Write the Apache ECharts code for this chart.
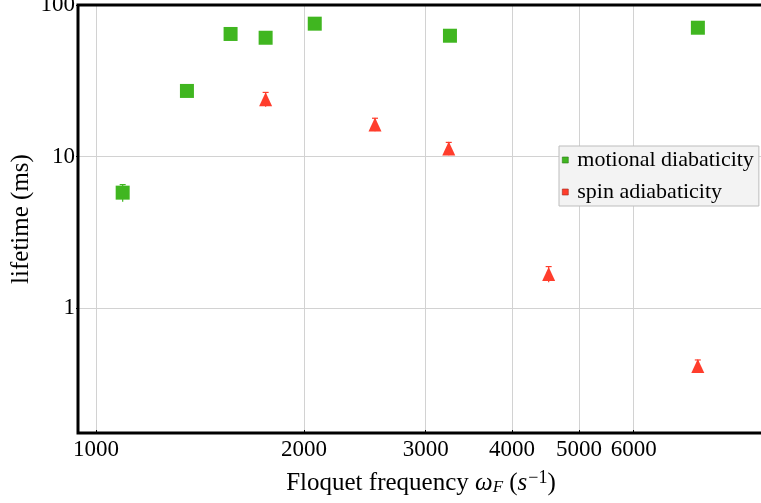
<!DOCTYPE html>
<html>
<head>
<meta charset="utf-8">
<script src="https://cdn.jsdelivr.net/npm/echarts@6/dist/echarts.min.js"></script>
<style>
html,body{margin:0;padding:0;background:#fff;}
#c{width:761px;height:503px;}
</style>
</head>
<body>
<div id="c"></div>
<script>
const motionalFreq = [1093, 1354, 1566, 1760, 2073, 3253, 7432];
const motionalLife = [5.78, 27.1, 64.4, 60.8, 75.3, 62.7, 70.8];
const motionalErr  = [0.75, 1, 2, 2, 2, 2, 2];

const spinFreq = [1760, 2534, 3240, 4520, 7430];
const spinLife = [23.9, 16.3, 11.3, 1.68, 0.415];
const spinErr  = [2.6, 1.6, 1.1, 0.2, 0.04];

const xTicks = [1000, 2000, 3000, 4000, 5000, 6000];
const yTicks = [1, 10, 100];

const GREEN = '#40b620';
const RED = '#ff3d2c';
const FONT = '"Liberation Serif", "Times New Roman", serif';

function pts(xs, ys) { return xs.map((x, i) => [x, ys[i]]); }
function errs(xs, ys, es) { return xs.map((x, i) => [x, ys[i] - es[i], ys[i] + es[i]]); }

function errRender(color) {
  return function (params, api) {
    const x = api.value(0);
    const lo = api.coord([x, api.value(1)]);
    const hi = api.coord([x, api.value(2)]);
    const w = 3;
    const st = { stroke: color, lineWidth: 1.2 };
    return {
      type: 'group',
      children: [
        { type: 'line', shape: { x1: lo[0], y1: lo[1], x2: hi[0], y2: hi[1] }, style: st },
        { type: 'line', shape: { x1: hi[0] - w, y1: hi[1], x2: hi[0] + w, y2: hi[1] }, style: st }
      ]
    };
  };
}

const chart = echarts.init(document.getElementById('c'), null, { renderer: 'canvas' });
chart.setOption({
  animation: false,
  backgroundColor: '#ffffff',
  grid: {
    left: 78, top: 5, right: -3, bottom: 70,
    outerBoundsMode: 'none',
    containLabel: false,
    show: true, borderColor: '#000', borderWidth: 3, backgroundColor: 'transparent', z: 5
  },
  legend: {
    orient: 'vertical',
    left: 559, top: 146,
    padding: [3, 5, 3, 3],
    itemGap: 10,
    itemWidth: 6, itemHeight: 6,
    backgroundColor: '#f3f3f3',
    borderColor: '#bdbdbd', borderWidth: 1,
    textStyle: { fontFamily: FONT, fontSize: 22, color: '#000', padding: [0, 0, 0, 4] },
    data: [
      { name: 'motional diabaticity', icon: 'rect', itemStyle: { color: GREEN, borderColor: '#2a7a15', borderWidth: 0.6 } },
      { name: 'spin adiabaticity', icon: 'rect', itemStyle: { color: RED, borderColor: '#a02a1e', borderWidth: 0.6 } }
    ]
  },
  xAxis: {
    type: 'log',
    min: 941.8, max: 9264,
    name: '{r|Floquet frequency }{i|ω}{sub|F}{r| (}{i|s}{sup|−1}{r|)}',
    nameLocation: 'middle',
    nameGap: 36,
    nameMoveOverlap: false,
    nameTextStyle: {
      fontFamily: FONT, fontSize: 25, color: '#000',
      rich: {
        r: { fontFamily: FONT, fontSize: 25, color: '#000' },
        i: { fontFamily: FONT, fontSize: 25, fontStyle: 'italic', color: '#000' },
        sub: { fontFamily: FONT, fontSize: 17, fontStyle: 'italic', color: '#000', padding: [9, 0, 0, 0] },
        sup: { fontFamily: FONT, fontSize: 18, color: '#000', padding: [0, 0, 11, 1] }
      }
    },
    axisLine: { show: false },
    axisTick: { show: true, inside: true, length: 3, lineStyle: { color: '#000', width: 1 }, customValues: xTicks },
    axisLabel: { customValues: xTicks, fontFamily: FONT, fontSize: 23, color: '#000', margin: 5, formatter: v => String(Math.round(v)) },
    splitLine: { show: true, lineStyle: { color: '#d2d2d2', width: 1 } },
    minorTick: { show: false },
    minorSplitLine: { show: false }
  },
  yAxis: {
    type: 'log',
    min: 0.15, max: 100,
    name: 'lifetime (ms)',
    nameLocation: 'middle',
    nameGap: 44,
    nameMoveOverlap: false,
    nameTextStyle: { fontFamily: FONT, fontSize: 25, color: '#000' },
    axisLine: { show: false },
    axisTick: { show: true, inside: false, length: 2, lineStyle: { color: '#000', width: 1 }, customValues: yTicks },
    axisLabel: { customValues: yTicks, fontFamily: FONT, fontSize: 23, color: '#000', margin: 3, formatter: v => String(Math.round(v)) },
    splitLine: { show: true, lineStyle: { color: '#d2d2d2', width: 1 } },
    minorTick: { show: false },
    minorSplitLine: { show: false }
  },
  series: [
    {
      name: 'motional diabaticity', type: 'custom', renderItem: errRender(GREEN),
      data: errs(motionalFreq, motionalLife, motionalErr), z: 2, silent: true,
      encode: { x: 0, y: [1, 2] }, itemStyle: { color: GREEN }
    },
    {
      name: 'spin adiabaticity', type: 'custom', renderItem: errRender(RED),
      data: errs(spinFreq, spinLife, spinErr), z: 2, silent: true,
      encode: { x: 0, y: [1, 2] }, itemStyle: { color: RED }
    },
    {
      name: 'motional diabaticity', type: 'scatter', symbol: 'rect', symbolSize: 14,
      data: pts(motionalFreq, motionalLife), itemStyle: { color: GREEN, opacity: 1 }, z: 3
    },
    {
      name: 'spin adiabaticity', type: 'scatter', symbol: 'triangle', symbolSize: [13, 14],
      data: pts(spinFreq, spinLife), itemStyle: { color: RED, opacity: 1 }, z: 3
    }
  ]
});
</script>
</body>
</html>
